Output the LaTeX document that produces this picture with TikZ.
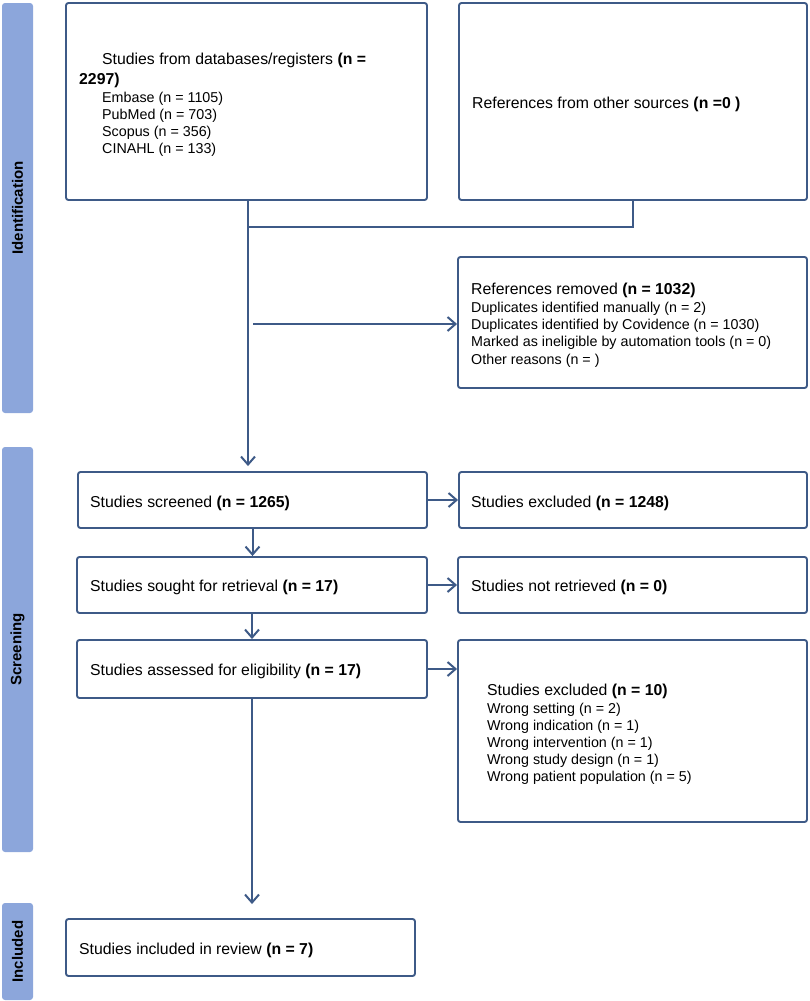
\documentclass[tikz,border=0pt]{standalone}
\usepackage{fontspec}
\setmainfont{Liberation Sans}
\usetikzlibrary{arrows.meta,calc}
\definecolor{edge}{RGB}{62,90,135}
\definecolor{barblue}{RGB}{140,166,219}
\begin{document}
\begin{tikzpicture}[x=1pt,y=-1pt,
  box/.style={draw=edge, line width=1.9pt, rounded corners=2.5pt, inner sep=0pt, fill=white},
  phase/.style={fill=barblue, rounded corners=3pt, inner sep=0pt, rotate=90, minimum height=31pt,
    font=\fontsize{15}{18}\selectfont\bfseries},
  head/.style={anchor=base west, inner sep=0pt, font=\fontsize{15.8}{19}\selectfont},
  sub/.style={anchor=base west, inner sep=0pt, font=\fontsize{14.3}{17}\selectfont},
  ln/.style={draw=edge, line width=2pt},
  arr/.style={ln, -{Straight Barb[length=8pt,width=14pt]}}]
\useasboundingbox (0,0) rectangle (810,1001);

% phase bars
\node[phase, minimum width=410pt] (pid) at (17.5,208) {Identification};
\node[phase, minimum width=405pt] (psc) at (17.5,649.5) {Screening};
\node[phase, minimum width=97pt] (pin) at (17.5,951.5) {Included};

% boxes
\node[box, minimum width=361pt, minimum height=197pt] (box1) at (246.5,101.5) {};
\node[box, minimum width=348pt, minimum height=197pt] (box2) at (633,101.5) {};
\node[box, minimum width=349pt, minimum height=131pt] (box3) at (632.5,322.5) {};
\node[box, minimum width=349pt, minimum height=56pt] (scr) at (252.5,500) {};
\node[box, minimum width=348pt, minimum height=56pt] (exc1) at (633,500) {};
\node[box, minimum width=350pt, minimum height=56pt] (sought) at (252,585) {};
\node[box, minimum width=349pt, minimum height=56pt] (notret) at (632.5,585) {};
\node[box, minimum width=350pt, minimum height=58pt] (ass) at (252,669) {};
\node[box, minimum width=349pt, minimum height=182pt] (exc2) at (632.5,731) {};
\node[box, minimum width=349pt, minimum height=57pt] (incl) at (240.5,947.5) {};

% texts
\node[head] (t1a) at (102,64.5) {Studies from databases/registers \textbf{(n =}};
\node[head] (t1b) at (79,84) {\textbf{2297)}};
\foreach \t [count=\i] in {Embase (n = 1105), PubMed (n = 703), Scopus (n = 356), CINAHL (n = 133)}
  \node[sub] (t1l\i) at ({102},{102+17.2*(\i-1)}) {\t};

\node[head] (t2) at (472,108.3) {References from other sources \textbf{(n =0 )}};

\node[head] (t3) at (471,294.3) {References removed \textbf{(n = 1032)}};
\foreach \t [count=\i] in {Duplicates identified manually (n = 2), Duplicates identified by Covidence (n = 1030), Marked as ineligible by automation tools (n = 0), Other reasons (n = )}
  \node[sub] (t3l\i) at ({471},{312.7+17.1*(\i-1)}) {\t};

\node[head] (tscr) at (90,507.7) {Studies screened \textbf{(n = 1265)}};
\node[head] (texc1) at (471,507.7) {Studies excluded \textbf{(n = 1248)}};
\node[head] (tsou) at (90,591.7) {Studies sought for retrieval \textbf{(n = 17)}};
\node[head] (tnot) at (471,591.7) {Studies not retrieved \textbf{(n = 0)}};
\node[head] (tass) at (90,675.7) {Studies assessed for eligibility \textbf{(n = 17)}};

\node[head] (texc2) at (487,695) {Studies excluded \textbf{(n = 10)}};
\foreach \t [count=\i] in {Wrong setting (n = 2), Wrong indication (n = 1), Wrong intervention (n = 1), Wrong study design (n = 1), Wrong patient population (n = 5)}
  \node[sub] (t5l\i) at ({487},{713.3+17.1*(\i-1)}) {\t};

\node[head] (tinc) at (79,954.3) {Studies included in review \textbf{(n = 7)}};

% connectors
\coordinate (j1) at (248,227);
\coordinate (j2) at (253,324);
\draw[ln] (box2.south) |- (j1);
\draw[arr, shorten >=5pt] (box1.south -| j1) -- (j1 |- scr.north);
\draw[arr] (j2) -- (j2 -| box3.west);
\draw[arr] (scr.east) -- (exc1.west);
\draw[arr] (scr.south) -- (scr.south |- sought.north);
\draw[arr] (sought.east) -- (notret.west);
\draw[arr] (sought.south) -- (sought.south |- ass.north);
\draw[arr] (ass.east) -- (ass.east -| exc2.west);
\draw[arr, shorten >=14pt] (ass.south) -- (ass.south |- incl.north);
\end{tikzpicture}
\end{document}
